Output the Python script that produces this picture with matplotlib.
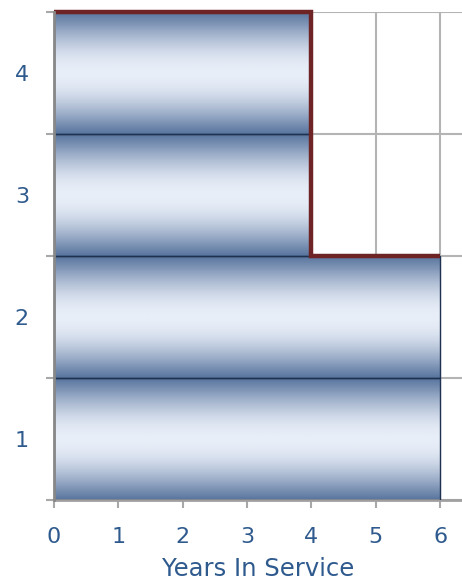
import numpy as np
import matplotlib
matplotlib.use("Agg")
import matplotlib.pyplot as plt
from matplotlib.colors import LinearSegmentedColormap
from matplotlib.patches import Rectangle

categories = [1, 2, 3, 4]
years = [6, 6, 4, 4]
x_ticks = [0, 1, 2, 3, 4, 5, 6]
x_label = "Years In Service"

text_color = "#2F5A8E"
grid_color = "#B4B4B4"

fig = plt.figure(figsize=(4.62, 5.82), dpi=100)
ax = fig.add_axes([54/462, 82/582, 408/462, 488/582])

ax.set_xlim(0, 6.34)
ax.set_ylim(0.5, 4.5)

# grid
for xv in x_ticks[1:]:
    ax.axvline(xv, color=grid_color, lw=1.5, zorder=0)
for yv in np.arange(0.5, 4.6, 1.0):
    ax.axhline(yv, color=grid_color, lw=1.5, zorder=0)

# gradient
t = np.linspace(0, 1, 256)
prof = np.sin(np.pi * t) ** 1.1
cmap = LinearSegmentedColormap.from_list("g", ["#5A769F", "#E8EEF8"])
img = prof[:, None]

for c, v in zip(categories, years):
    rect = Rectangle((0, c - 0.5), v, 1.0, facecolor="none",
                     edgecolor="#1E3250", lw=1.0, zorder=3)
    ax.add_patch(rect)
    im = ax.imshow(img, cmap=cmap, vmin=0, vmax=1, aspect="auto",
                   extent=(0, v, c - 0.5, c + 0.5), origin="lower",
                   interpolation="bilinear", zorder=2)
    im.set_clip_path(rect)

# step outline derived from data
order = sorted(zip(categories, years), key=lambda p: -p[0])
sx = [0, order[0][1]]
sy = [order[0][0] + 0.5, order[0][0] + 0.5]
for (c1, v1), (c2, v2) in zip(order[:-1], order[1:]):
    if v2 != v1:
        sx += [v1, v2]
        sy += [c1 - 0.5, c1 - 0.5]
ax.plot(sx, sy, color="#6E2324", lw=3.2, solid_joinstyle="miter",
        solid_capstyle="butt", zorder=5, clip_on=False)

ax.set_xlim(0, 6.34)
ax.set_ylim(0.5, 4.5)

for s in ["top", "right"]:
    ax.spines[s].set_visible(False)
ax.spines["left"].set_color("#888888")
ax.spines["left"].set_linewidth(2)
ax.spines["bottom"].set_color("#A0A0A0")
ax.spines["bottom"].set_linewidth(2)
ax.spines["left"].set_zorder(6)

ax.set_xticks(x_ticks)
ax.set_xticklabels([str(x) for x in x_ticks])
ax.set_yticks(categories)
ax.set_yticklabels([str(c) for c in categories])
ax.set_yticks(np.arange(0.5, 4.6, 1.0), minor=True)
ax.tick_params(axis="y", which="major", length=0, pad=18,
               labelsize=16, labelcolor=text_color)
ax.tick_params(axis="y", which="minor", length=6, width=1.5,
               color="#A8A8A8", direction="out")
ax.tick_params(axis="x", which="major", length=6, width=1.5,
               color="#A8A8A8", direction="out", pad=13.5,
               labelsize=16, labelcolor=text_color)

ax.set_xlabel(x_label, fontsize=17.5, color=text_color, labelpad=7)

fig.savefig("out.png", dpi=100)
